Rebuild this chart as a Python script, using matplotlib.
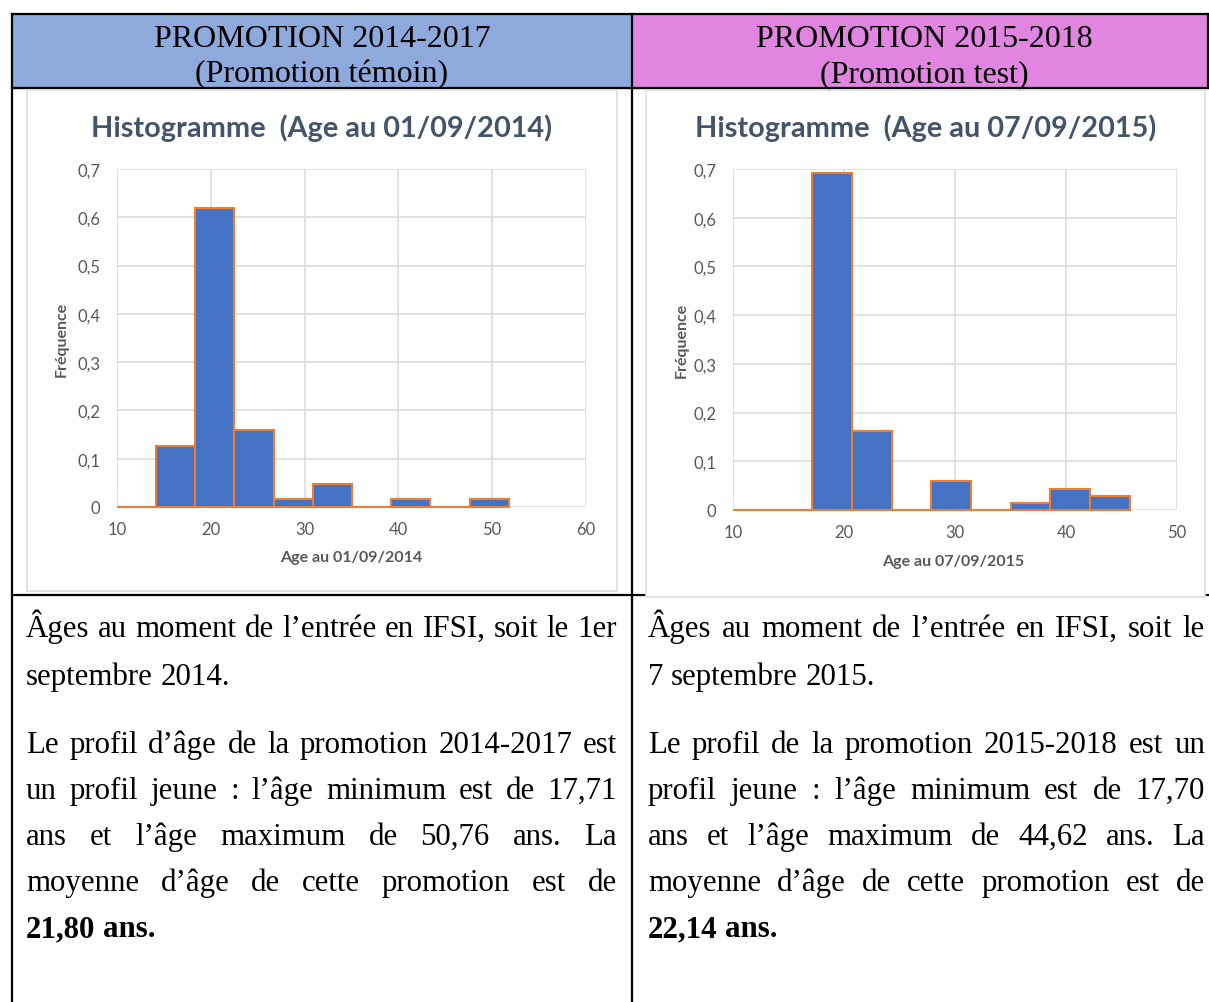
import numpy as np
import matplotlib
matplotlib.use("Agg")
import matplotlib.pyplot as plt
from matplotlib.patches import Rectangle
from matplotlib.ticker import FuncFormatter

# Histogram data (bin edges in years, relative frequencies)
bins_2014 = [10, 14.17, 18.35, 22.52, 26.70, 30.88, 35.05, 39.23, 43.40, 47.58, 51.75]
freq_2014 = [0, 0.127, 0.619, 0.159, 0.016, 0.048, 0, 0.016, 0, 0.016]

bins_2015 = [10, 13.58, 17.15, 20.73, 24.30, 27.88, 31.45, 35.03, 38.60, 42.18, 45.75]
freq_2015 = [0, 0, 0.691, 0.162, 0, 0.059, 0, 0.015, 0.044, 0.029]

xticks_2014 = [10, 20, 30, 40, 50, 60]
xticks_2015 = [10, 20, 30, 40, 50]
yticks = [0, 0.1, 0.2, 0.3, 0.4, 0.5, 0.6, 0.7]

headers = [("PROMOTION 2014-2017", "(Promotion témoin)"),
           ("PROMOTION 2015-2018", "(Promotion test)")]
titles = ["Histogramme  (Age au 01/09/2014)", "Histogramme  (Age au 07/09/2015)"]
xlabels = ["Age au 01/09/2014", "Age au 07/09/2015"]

# (text, justified, bold)
text_2014 = [
    ("Âges au moment de l’entrée en IFSI, soit le 1er", True, False),
    ("septembre 2014.", False, False),
    ("Le profil d’âge de la promotion 2014-2017 est", True, False),
    ("un profil jeune : l’âge minimum est de 17,71", True, False),
    ("ans et l’âge maximum de 50,76 ans. La", True, False),
    ("moyenne d’âge de cette promotion est de", True, False),
    ("21,80 ans.", False, True),
]
text_2015 = [
    ("Âges au moment de l’entrée en IFSI, soit le", True, False),
    ("7 septembre 2015.", False, False),
    ("Le profil de la promotion 2015-2018 est un", True, False),
    ("profil jeune : l’âge minimum est de 17,70", True, False),
    ("ans et l’âge maximum de 44,62 ans. La", True, False),
    ("moyenne d’âge de cette promotion est de", True, False),
    ("22,14 ans.", False, True),
]
baselines = [637, 685, 753, 799, 845, 891, 937]

W, H = 1209, 1003
BLUE_HEAD = "#8EA9DB"
PINK_HEAD = "#E086E0"
BAR = "#4472C4"
EDGE = "#ED7D31"
GRID = "#D9DDE3"
TICK = "#595959"
TITLE = "#44546A"
SERIF = "Liberation Serif"
SANS = "Lato"
BODY_SIZE = 22.2

fig = plt.figure(figsize=(W / 100, H / 100), dpi=100)

# background axes in pixel units for the table
tab = fig.add_axes([0, 0, 1, 1])
tab.set_xlim(0, W)
tab.set_ylim(H, 0)
tab.axis("off")

tab.add_patch(Rectangle((12, 15), 620, 74, color=BLUE_HEAD, zorder=1))
tab.add_patch(Rectangle((632, 15), 576, 74, color=PINK_HEAD, zorder=1))

lw = 1.6
tab.plot([12, 1208], [15, 15], color="black", lw=lw, zorder=2)
tab.plot([12, 1208], [89, 89], color="black", lw=lw, zorder=2)
tab.plot([12, 1208], [596, 596], color="black", lw=lw, zorder=2)
tab.plot([12, 12], [15, H], color="black", lw=lw, zorder=2)
tab.plot([632, 632], [15, H], color="black", lw=lw, zorder=2)
tab.plot([1208, 1208], [15, 89], color="black", lw=lw, zorder=2)

# chart frames (the right one sits over the row line)
tab.add_patch(Rectangle((26.5, 91), 590, 501, fc="white", ec="#DADDE2", lw=1.2, zorder=3))
tab.add_patch(Rectangle((646, 91), 559, 507, fc="white", ec="#DADDE2", lw=1.2, zorder=3))

# header cells
for cx, (l1, l2) in zip([322, 924], headers):
    tab.text(cx, 47, l1, ha="center", va="baseline", fontsize=23, family=SERIF, zorder=4)
    tab.text(cx, 82, l2, ha="center", va="baseline", fontsize=23, family=SERIF, zorder=4)

# chart titles
for cx, t in zip([322, 926], titles):
    tab.text(cx, 128, t, ha="center", va="center", fontsize=20.8, weight="bold",
             color=TITLE, family=SANS, zorder=4)


def px_axes(x0, x1, y0, y1):
    # x0/x1: pixel columns of xmin/xmax, y0/y1: pixel rows of ymin/ymax
    return fig.add_axes([x0 / W, 1 - y0 / H, (x1 - x0) / W, (y0 - y1) / H])


def comma(v, pos):
    return "0" if v == 0 else f"{v:.1f}".replace(".", ",")


def histo(ax, bins, freq, xticks, xlabel):
    ax.bar(bins[:-1], freq, width=np.diff(bins), align="edge", color=BAR,
           edgecolor=EDGE, linewidth=1.5, clip_on=False, zorder=3)
    ax.set_xlim(xticks[0], xticks[-1])
    ax.set_ylim(0, 0.7)
    ax.set_xticks(xticks)
    ax.set_yticks(yticks)
    ax.yaxis.set_major_formatter(FuncFormatter(comma))
    ax.grid(True, color=GRID, lw=1.2)
    ax.set_axisbelow(True)
    for s in ax.spines.values():
        s.set_visible(False)
    ax.tick_params(axis="x", length=0, colors=TICK, labelsize=12, pad=10)
    ax.tick_params(axis="y", length=0, colors=TICK, labelsize=12, pad=12)
    for lab in ax.get_xticklabels() + ax.get_yticklabels():
        lab.set_family(SANS)
    ax.set_facecolor("none")
    ax.set_xlabel(xlabel, fontsize=11.5, weight="bold", color=TICK, family=SANS)
    ax.set_ylabel("Fréquence", fontsize=11.5, weight="bold", color=TICK, family=SANS)
    ax.xaxis.label.set_va("center")
    ax.yaxis.label.set_va("center")


ax1 = px_axes(117, 586, 508, 170)
histo(ax1, bins_2014, freq_2014, xticks_2014, xlabels[0])
ax1.xaxis.set_label_coords(0.5, -0.148)
ax1.yaxis.set_label_coords(-0.117, 0.5)

ax2 = px_axes(733, 1177, 511, 170)
histo(ax2, bins_2015, freq_2015, xticks_2015, xlabels[1])
ax2.xaxis.set_label_coords(0.495, -0.15)
ax2.yaxis.set_label_coords(-0.115, 0.5)

# justified body text, word by word
renderer = fig.canvas.get_renderer()


def write_line(x0, x1, y, line, justify, bold):
    words = line.split(" ")
    items = [tab.text(0, y, w, fontsize=BODY_SIZE, family=SERIF, va="baseline",
                      weight="bold" if bold else "normal", zorder=4) for w in words]
    widths = [t.get_window_extent(renderer).width for t in items]
    if justify and len(words) > 1:
        gap = (x1 - x0 - sum(widths)) / (len(words) - 1)
    else:
        gap = 0.25 * BODY_SIZE * 100 / 72
    x = x0
    for t, w in zip(items, widths):
        t.set_x(x)
        x += w + gap


for (line, just, bold), y in zip(text_2014, baselines):
    write_line(26, 617, y, line, just, bold)
for (line, just, bold), y in zip(text_2015, baselines):
    write_line(648, 1205, y, line, just, bold)

fig.savefig("out.png", dpi=100)
